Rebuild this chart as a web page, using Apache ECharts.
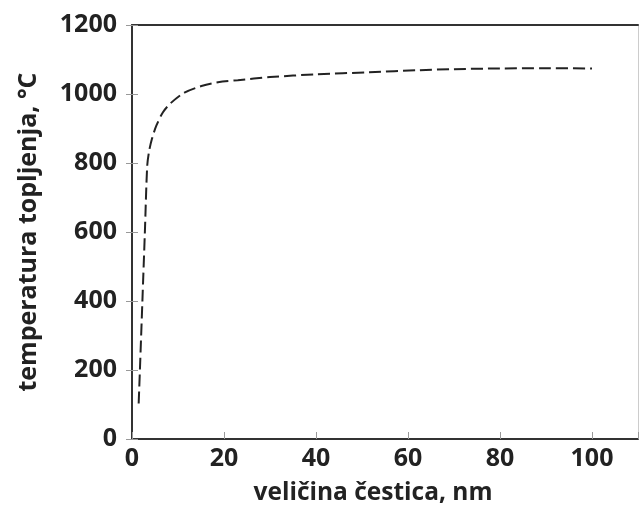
<!DOCTYPE html>
<html>
<head>
<meta charset="utf-8">
<script src="https://cdn.jsdelivr.net/npm/echarts@6/dist/echarts.min.js"></script>
<style>
html,body{margin:0;padding:0;background:#fff;}
#chart{width:641px;height:511px;}
</style>
</head>
<body>
<div id="chart"></div>
<script>
// particle size (nm)
const sizeNm = [1.45, 1.72, 2.26, 2.8, 3.3, 3.69, 4.34, 5.29, 6.73, 8.54, 11.4, 15.1, 18.7, 23, 30, 40, 51.6, 62.4, 70, 79.8, 90, 100];
// melting temperature (°C)
const meltTemp = [103, 200, 400, 600, 790, 832, 870, 908, 947, 975, 1004, 1023, 1034, 1040, 1049, 1057, 1063, 1069, 1072, 1074, 1075, 1074];
const xTicks = [0, 20, 40, 60, 80, 100];
const yTicks = [0, 200, 400, 600, 800, 1000, 1200];
const xTitle = 'veličina čestica, nm';
const yTitle = 'temperatura topljenja, °C';

const FONT = 'Open Sans';
const points = sizeNm.map((x, i) => [x, meltTemp[i]]);

const chart = echarts.init(document.getElementById('chart'), null, {renderer: 'canvas'});
chart.setOption({
  animation: false,
  backgroundColor: '#fff',
  grid: {left: 132, top: 25, right: 3, bottom: 68, containLabel: false},
  xAxis: [{
    type: 'value', min: 0, max: 110, interval: 20, position: 'bottom',
    name: xTitle, nameLocation: 'middle', nameGap: 42,
    nameTextStyle: {fontFamily: FONT, fontWeight: 'bold', fontSize: 24.5, color: '#222', padding: [0, 24, 0, 0]},
    axisLine: {show: true, onZero: false, lineStyle: {color: '#333', width: 2}},
    axisTick: {show: true, inside: true, length: 7, lineStyle: {color: '#999', width: 1}},
    axisLabel: {fontFamily: FONT, fontWeight: 'bold', fontSize: 25, color: '#222', margin: 7,
      formatter: v => xTicks.includes(v) ? String(v) : ''},
    splitLine: {show: false}
  }, {
    type: 'value', min: 0, max: 110, position: 'top',
    axisLine: {show: true, onZero: false, lineStyle: {color: '#333', width: 2}},
    axisTick: {show: false}, axisLabel: {show: false}, splitLine: {show: false}
  }],
  yAxis: [{
    type: 'value', min: 0, max: 1200, interval: 200, position: 'left',
    name: yTitle, nameLocation: 'middle', nameGap: 91, nameRotate: 90,
    nameTextStyle: {fontFamily: FONT, fontWeight: 'bold', fontSize: 25, color: '#222'},
    axisLine: {show: true, onZero: false, lineStyle: {color: '#333', width: 2}},
    axisTick: {show: true, inside: true, length: 6, lineStyle: {color: '#999', width: 1}},
    axisLabel: {fontFamily: FONT, fontWeight: 'bold', fontSize: 25, color: '#222', margin: 15,
      formatter: v => yTicks.includes(v) ? String(v) : ''},
    splitLine: {show: false}
  }, {
    type: 'value', min: 0, max: 1200, interval: 200, position: 'left', offset: 0,
    axisLine: {show: false, onZero: false},
    axisTick: {show: true, inside: false, length: 6, lineStyle: {color: '#999', width: 1}},
    axisLabel: {show: false}, splitLine: {show: false}
  }, {
    type: 'value', min: 0, max: 1200, position: 'right',
    axisLine: {show: true, onZero: false, lineStyle: {color: '#ccc', width: 1}},
    axisTick: {show: false}, axisLabel: {show: false}, splitLine: {show: false}
  }],
  series: [{
    type: 'line',
    data: points,
    xAxisIndex: 0, yAxisIndex: 0,
    smooth: 0.3,
    showSymbol: false,
    lineStyle: {color: '#222', width: 2, type: [12, 5]}
  }]
});
</script>
</body>
</html>
